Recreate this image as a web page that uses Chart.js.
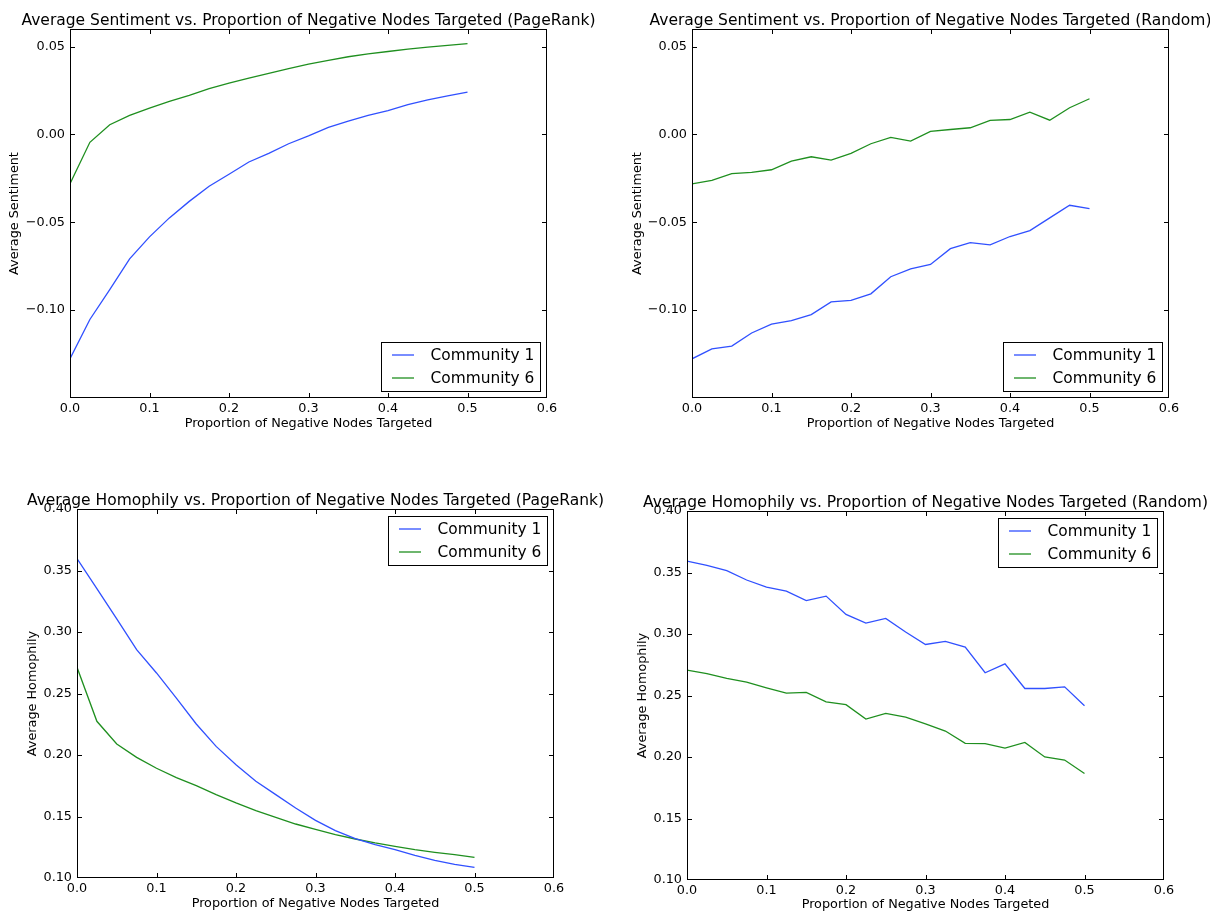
<!DOCTYPE html>
<html>
<head>
<meta charset="utf-8">
<script src="https://cdn.jsdelivr.net/npm/chart.js@4.4.0/dist/chart.umd.min.js"></script>
<style>
  html, body { margin: 0; padding: 0; background: #fff; }
  body { width: 1210px; height: 912px; position: relative; overflow: hidden; }
  canvas { position: absolute; }
</style>
</head>
<body>
<canvas id="sentPR" width="620" height="456" style="left:0;top:0"></canvas>
<canvas id="sentRand" width="590" height="456" style="left:620px;top:0"></canvas>
<canvas id="homPR" width="620" height="456" style="left:0;top:456px"></canvas>
<canvas id="homRand" width="590" height="456" style="left:620px;top:456px"></canvas>
<script>
// proportion of negative nodes targeted (x values)
const proportion = [0, 0.025, 0.05, 0.075, 0.1, 0.125, 0.15, 0.175, 0.2, 0.225, 0.25,
  0.275, 0.3, 0.325, 0.35, 0.375, 0.4, 0.425, 0.45, 0.475, 0.5];

// average sentiment, PageRank targeting
const sentPageRankC1 = [-0.1277, -0.1053, -0.0883, -0.0708, -0.0583, -0.0475, -0.0381, -0.0295,
  -0.0227, -0.0157, -0.0108, -0.0053, -0.0008, 0.004, 0.0076, 0.0108, 0.0136, 0.0169, 0.0197, 0.022, 0.0241];
const sentPageRankC6 = [-0.028, -0.0045, 0.0055, 0.0108, 0.015, 0.0188, 0.0222, 0.026, 0.0292, 0.032,
  0.0347, 0.0375, 0.040, 0.0422, 0.0442, 0.0458, 0.0472, 0.0486, 0.0497, 0.0507, 0.0517];

// average sentiment, random targeting
const sentRandomC1 = [-0.1277, -0.122, -0.1205, -0.113, -0.108, -0.106, -0.1025, -0.0953, -0.0945,
  -0.0907, -0.081, -0.0765, -0.074, -0.065, -0.0616, -0.0629, -0.0581, -0.0547, -0.0475, -0.0403, -0.0422];
const sentRandomC6 = [-0.0282, -0.0261, -0.0223, -0.0216, -0.0201, -0.0152, -0.0127, -0.0146, -0.0108,
  -0.0053, -0.0017, -0.0038, 0.0017, 0.0028, 0.0038, 0.008, 0.0085, 0.0127, 0.0081, 0.0152, 0.0203];

// average homophily, PageRank targeting
const homPageRankC1 = [0.3596, 0.3352, 0.3106, 0.2857, 0.2667, 0.2463, 0.2252, 0.207, 0.1921, 0.1786,
  0.1678, 0.1569, 0.1469, 0.1385, 0.132, 0.1271, 0.123, 0.1184, 0.1144, 0.1111, 0.1087];
const homPageRankC6 = [0.2713, 0.2274, 0.209, 0.1981, 0.1892, 0.1816, 0.1751, 0.1678, 0.161, 0.1547,
  0.1493, 0.1439, 0.1396, 0.1352, 0.1317, 0.1285, 0.1257, 0.123, 0.1209, 0.119, 0.1168];

// average homophily, random targeting
const homRandomC1 = [0.3593, 0.3558, 0.3515, 0.3439, 0.3382, 0.3349, 0.3271, 0.3308, 0.3159, 0.3089,
  0.3127, 0.3016, 0.2915, 0.294, 0.2894, 0.2685, 0.2757, 0.2557, 0.2557, 0.257, 0.2416];
const homRandomC6 = [0.2707, 0.2677, 0.2639, 0.2609, 0.2563, 0.252, 0.2525, 0.2449, 0.2425, 0.2308,
  0.2354, 0.2324, 0.227, 0.2211, 0.2111, 0.2108, 0.2073, 0.2119, 0.2, 0.1975, 0.1866];

const seriesNames = ["Community 1", "Community 6"];

// tick labels
const xTicks = [0, 0.1, 0.2, 0.3, 0.4, 0.5, 0.6];
const xTickLabels = ["0.0", "0.1", "0.2", "0.3", "0.4", "0.5", "0.6"];
const sentTicks = [-0.10, -0.05, 0, 0.05];
const sentTickLabels = ["\u22120.10", "\u22120.05", "0.00", "0.05"];
const homTicks = [0.10, 0.15, 0.20, 0.25, 0.30, 0.35, 0.40];
const homTickLabels = ["0.10", "0.15", "0.20", "0.25", "0.30", "0.35", "0.40"];

const BLUE = "#3050ff";
const GREEN = "#1f8f1f";
const FONT = "'DejaVu Sans', sans-serif";

Chart.defaults.font.family = FONT;
Chart.defaults.color = "#000";

// draws the matplotlib-ish frame, inward ticks, title and in-axes legend
const mplFrame = {
  id: "mplFrame",
  afterDraw(chart, args, opts) {
    const ctx = chart.ctx;
    const a = chart.chartArea;
    const L = Math.round(a.left) + 0.5, R = Math.round(a.right) - 0.5;
    const T = Math.round(a.top) + 0.5, B = Math.round(a.bottom) - 0.5;
    ctx.save();
    ctx.strokeStyle = "#000";
    ctx.lineWidth = 1;
    ctx.strokeRect(L, T, R - L, B - T);

    const tl = 4.5;
    ctx.beginPath();
    chart.scales.x.ticks.forEach(t => {
      const px = Math.min(R, Math.round(chart.scales.x.getPixelForValue(t.value)) + 0.5);
      ctx.moveTo(px, B); ctx.lineTo(px, B - tl);
      ctx.moveTo(px, T); ctx.lineTo(px, T + tl);
    });
    chart.scales.y.ticks.forEach(t => {
      const py = Math.min(B, Math.round(chart.scales.y.getPixelForValue(t.value)) + 0.5);
      ctx.moveTo(L, py); ctx.lineTo(L + tl, py);
      ctx.moveTo(R, py); ctx.lineTo(R - tl, py);
    });
    ctx.stroke();

    // title
    ctx.fillStyle = "#000";
    ctx.font = "15.5px " + FONT;
    ctx.textAlign = "center";
    ctx.textBaseline = "alphabetic";
    ctx.fillText(opts.title, (a.left + a.right) / 2, a.top - 4);

    // legend
    const w = 159, h = 49, inset = 7;
    const bx = Math.round(a.right - inset - w) + 0.5;
    const by = opts.legendAt === "lower" ? Math.round(a.bottom - inset - h) + 0.5 : Math.round(a.top + inset) + 0.5;
    ctx.fillStyle = "#fff";
    ctx.fillRect(bx, by, w, h);
    ctx.strokeStyle = "#000";
    ctx.strokeRect(bx, by, w, h);
    ctx.font = "15.4px " + FONT;
    ctx.textAlign = "left";
    ctx.textBaseline = "middle";
    chart.data.datasets.forEach((ds, i) => {
      const ry = by + 12.5 + i * 23;
      ctx.strokeStyle = ds.borderColor;
      ctx.lineWidth = ds.borderWidth;
      ctx.beginPath();
      ctx.moveTo(bx + 10.5, ry);
      ctx.lineTo(bx + 32.5, ry);
      ctx.stroke();
      ctx.fillStyle = "#000";
      ctx.fillText(ds.label, bx + 49, ry + 1);
    });
    ctx.restore();
  }
};

function toPoints(ys) {
  return proportion.map((x, i) => ({ x: x, y: ys[i] }));
}

function makeChart(id, cfg) {
  const ctx = document.getElementById(id).getContext("2d");
  return new Chart(ctx, {
    type: "line",
    data: {
      datasets: [
        { label: seriesNames[0], data: toPoints(cfg.c1), borderColor: BLUE, borderWidth: 1.3, pointRadius: 0, tension: 0 },
        { label: seriesNames[1], data: toPoints(cfg.c6), borderColor: GREEN, borderWidth: 1.3, pointRadius: 0, tension: 0 }
      ]
    },
    options: {
      responsive: false,
      animation: false,
      events: [],
      layout: { padding: { left: 0, top: cfg.padTop, right: cfg.padRight, bottom: 0 } },
      plugins: {
        legend: { display: false },
        title: { display: false },
        tooltip: { enabled: false },
        mplFrame: { title: cfg.title, legendAt: cfg.legendAt }
      },
      scales: {
        x: {
          type: "linear",
          min: 0,
          max: 0.6,
          afterBuildTicks: s => { s.ticks = xTicks.map(v => ({ value: v })); },
          afterFit: s => { s.height = cfg.bh; },
          grid: { display: false, drawTicks: false },
          border: { display: false },
          ticks: {
            autoSkip: false, maxRotation: 0, padding: 3,
            font: { size: 12.8 },
            callback: (v, i) => xTickLabels[i]
          },
          title: {
            display: true,
            text: "Proportion of Negative Nodes Targeted",
            font: { size: 12.8, lineHeight: 1.2 },
            padding: { top: 0, bottom: cfg.xTitlePad }
          }
        },
        y: {
          type: "linear",
          min: cfg.yMin,
          max: cfg.yMax,
          afterBuildTicks: s => { s.ticks = cfg.yTicks.map(v => ({ value: v })); },
          afterFit: s => { s.width = cfg.lw; },
          grid: { display: false, drawTicks: false },
          border: { display: false },
          ticks: {
            autoSkip: false, padding: 5,
            font: { size: 12.8 },
            callback: (v, i) => cfg.yTickLabels[i]
          },
          title: {
            display: true,
            text: cfg.yTitle,
            font: { size: 12.8, lineHeight: 1.2 },
            padding: { top: cfg.yTitlePad, bottom: 0 }
          }
        }
      }
    },
    plugins: [mplFrame]
  });
}

makeChart("sentPR", {
  title: "Average Sentiment vs. Proportion of Negative Nodes Targeted (PageRank)",
  yTitle: "Average Sentiment",
  c1: sentPageRankC1, c6: sentPageRankC6,
  yMin: -0.15, yMax: 0.06, yTicks: sentTicks, yTickLabels: sentTickLabels,
  padTop: 29, padRight: 73, lw: 70, bh: 58, yTitlePad: 7.3, xTitlePad: 24.3, legendAt: "lower"
});

makeChart("sentRand", {
  title: "Average Sentiment vs. Proportion of Negative Nodes Targeted (Random)",
  yTitle: "Average Sentiment",
  c1: sentRandomC1, c6: sentRandomC6,
  yMin: -0.15, yMax: 0.06, yTicks: sentTicks, yTickLabels: sentTickLabels,
  padTop: 29, padRight: 41, lw: 72, bh: 58, yTitlePad: 10.3, xTitlePad: 24.3, legendAt: "lower"
});

makeChart("homPR", {
  title: "Average Homophily vs. Proportion of Negative Nodes Targeted (PageRank)",
  yTitle: "Average Homophily",
  c1: homPageRankC1, c6: homPageRankC6,
  yMin: 0.10, yMax: 0.40, yTicks: homTicks, yTickLabels: homTickLabels,
  padTop: 53, padRight: 66, lw: 77, bh: 34, yTitlePad: 25.3, xTitlePad: 0.3, legendAt: "upper"
});

makeChart("homRand", {
  title: "Average Homophily vs. Proportion of Negative Nodes Targeted (Random)",
  yTitle: "Average Homophily",
  c1: homRandomC1, c6: homRandomC6,
  yMin: 0.10, yMax: 0.40, yTicks: homTicks, yTickLabels: homTickLabels,
  padTop: 55, padRight: 46, lw: 67, bh: 32, yTitlePad: 15, xTitlePad: 0, legendAt: "upper"
});
</script>
</body>
</html>
